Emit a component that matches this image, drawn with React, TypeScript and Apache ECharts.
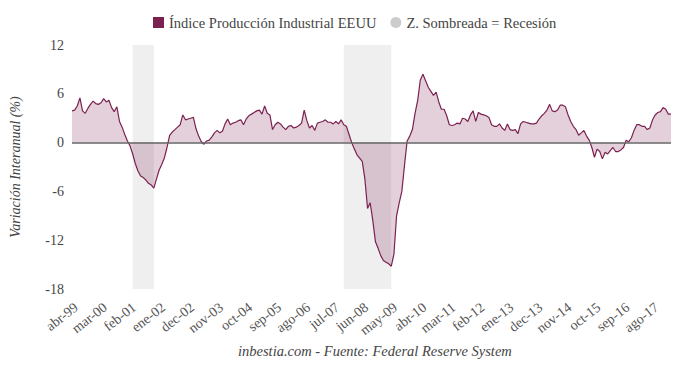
import React, { useEffect, useRef } from "react";
import * as echarts from "echarts";

const MONTH_NAMES = ["ene", "feb", "mar", "abr", "may", "jun", "jul", "ago", "sep", "oct", "nov", "dec"];
const START_YEAR = 1999;
const START_MONTH = 3; // abr

const ipYoY: number[] = [
  3.9, 4.0, 4.5, 5.5, 3.9, 3.6, 4.2, 4.7, 5.1, 4.8, 4.7, 4.9,
  5.4, 5.0, 5.2, 4.3, 3.8, 4.4, 2.6, 1.9, 1.0, 0.2, -0.4, -1.4,
  -2.6, -3.5, -4.1, -4.3, -4.6, -5.0, -5.2, -5.6, -4.5, -3.4, -2.7, -1.9,
  -0.6, 0.9, 1.3, 1.6, 1.9, 2.2, 3.4, 2.8, 2.9, 3.0, 3.1, 1.7,
  0.8, 0.1, -0.2, 0.2, 0.3, 0.7, 1.2, 1.5, 1.2, 1.4, 2.3, 2.9,
  2.2, 2.4, 2.5, 2.7, 2.8, 2.2, 2.9, 3.3, 3.5, 3.7, 3.9, 4.0,
  3.5, 4.5, 3.6, 3.4, 1.6, 2.2, 2.5, 2.3, 1.9, 1.6, 2.0, 2.1,
  1.8, 1.9, 2.1, 2.4, 4.0, 2.7, 1.8, 2.1, 1.5, 2.4, 2.5, 2.6,
  2.8, 2.5, 2.5, 2.3, 2.6, 2.3, 2.8, 2.2, 2.0, 1.0, 0.0, -0.8,
  -1.5, -1.9, -2.3, -4.5, -8.1, -7.4, -9.6, -12.2, -13.0, -13.9, -14.5, -14.7,
  -14.9, -15.2, -13.7, -9.0, -7.4, -6.0, -2.8, 0.2, 0.8, 1.6, 3.6, 5.2,
  7.7, 8.4, 7.6, 6.8, 6.3, 5.8, 6.2, 5.0, 4.1, 4.1, 3.3, 2.2,
  2.1, 2.2, 2.4, 2.3, 3.0, 2.9, 2.6, 3.4, 3.9, 2.6, 3.7, 3.5,
  3.4, 3.3, 3.1, 2.2, 2.0, 2.0, 2.3, 1.8, 1.5, 2.3, 1.6, 1.5,
  1.6, 1.1, 2.3, 2.6, 2.5, 2.4, 2.3, 2.3, 2.4, 2.9, 3.3, 3.6,
  4.0, 4.7, 3.9, 3.8, 4.0, 4.6, 4.6, 4.4, 3.4, 2.6, 2.0, 1.6,
  0.9, 1.2, 1.5, 0.8, 0.3, -0.6, -1.8, -0.8, -1.1, -2.0, -1.2, -1.4,
  -1.0, -0.6, -1.1, -1.1, -0.9, -0.6, 0.3, 0.1, 0.6, 1.5, 2.2, 2.2,
  2.0, 2.0, 1.6, 1.8, 2.8, 3.4, 3.7, 3.8, 4.3, 4.1, 3.5, 3.5,
];

const categories: string[] = ipYoY.map((_, i) => {
  const m = START_MONTH + i;
  const y = START_YEAR + Math.floor(m / 12);
  return `${MONTH_NAMES[m % 12]}-${String(y % 100).padStart(2, "0")}`;
});

const recessions: [string, string][] = [
  ["mar-01", "nov-01"],
  ["nov-07", "may-09"],
];

const SERIES_NAME = "Índice Producción Industrial EEUU";
const RECESSION_NAME = "Z. Sombreada = Recesión";
const Y_TITLE = "Variación Interanual (%)";
const FOOTER = "inbestia.com - Fuente: Federal Reserve System";

const FONT = "Liberation Serif";

export default function App() {
  const ref = useRef<HTMLDivElement>(null);
  useEffect(() => {
    if (!ref.current) return;
    const chart = echarts.init(ref.current, null, { renderer: "svg" });
    chart.setOption({
      animation: false,
      textStyle: { fontFamily: FONT },
      grid: { left: 72, right: 9, top: 45, bottom: 78, containLabel: false, outerBoundsMode: "none" },
      legend: {
        top: 10,
        left: 148,
        itemWidth: 11,
        itemHeight: 11,
        itemGap: 14,
        textStyle: { fontFamily: FONT, fontSize: 14.5, color: "#444" },
        data: [
          { name: SERIES_NAME, icon: "rect", itemStyle: { color: "#7b2151" } },
          { name: RECESSION_NAME, icon: "circle", itemStyle: { color: "#cccccc" } },
        ],
      },
      xAxis: {
        type: "category",
        data: categories,
        boundaryGap: false,
        axisLine: { show: false },
        axisTick: { show: false },
        splitLine: { show: false },
        axisLabel: {
          interval: 10,
          rotate: 38,
          margin: 11,
          verticalAlign: "top",
          color: "#555",
          fontFamily: FONT,
          fontSize: 14,
        },
      },
      yAxis: {
        type: "value",
        min: -18,
        max: 12,
        interval: 6,
        name: Y_TITLE,
        nameLocation: "middle",
        nameGap: 50,
        nameTextStyle: { fontFamily: FONT, fontSize: 14, fontStyle: "italic", color: "#444" },
        axisLine: { show: false },
        axisTick: { show: false },
        splitLine: { show: false },
        axisLabel: { color: "#444", fontFamily: FONT, fontSize: 14, margin: 8 },
      },
      graphic: [
        {
          type: "text",
          left: 238,
          top: 343,
          style: {
            text: FOOTER,
            font: `italic 14.5px "${FONT}"`,
            fill: "#444",
          },
        },
      ],
      series: [
        {
          name: RECESSION_NAME,
          type: "line",
          data: [],
          itemStyle: { color: "#cccccc" },
          markArea: {
            silent: true,
            itemStyle: { color: "#efefef" },
            data: recessions.map(([a, b]) => [{ xAxis: a }, { xAxis: b }]),
          },
        },
        {
          name: SERIES_NAME,
          type: "line",
          data: ipYoY,
          showSymbol: false,
          symbol: "none",
          lineStyle: { color: "#7b2151", width: 1.2 },
          itemStyle: { color: "#7b2151" },
          areaStyle: { color: "rgba(123,33,81,0.3)" },
          markLine: {
            silent: true,
            symbol: "none",
            label: { show: false },
            lineStyle: { color: "#666", width: 1.5, type: "solid" },
            data: [{ yAxis: 0 }],
          },
        },
      ],
    });
    return () => chart.dispose();
  }, []);
  return (
    <div
      ref={ref}
      style={{ position: "absolute", left: 0, top: 0, width: 680, height: 367 }}
    />
  );
}
